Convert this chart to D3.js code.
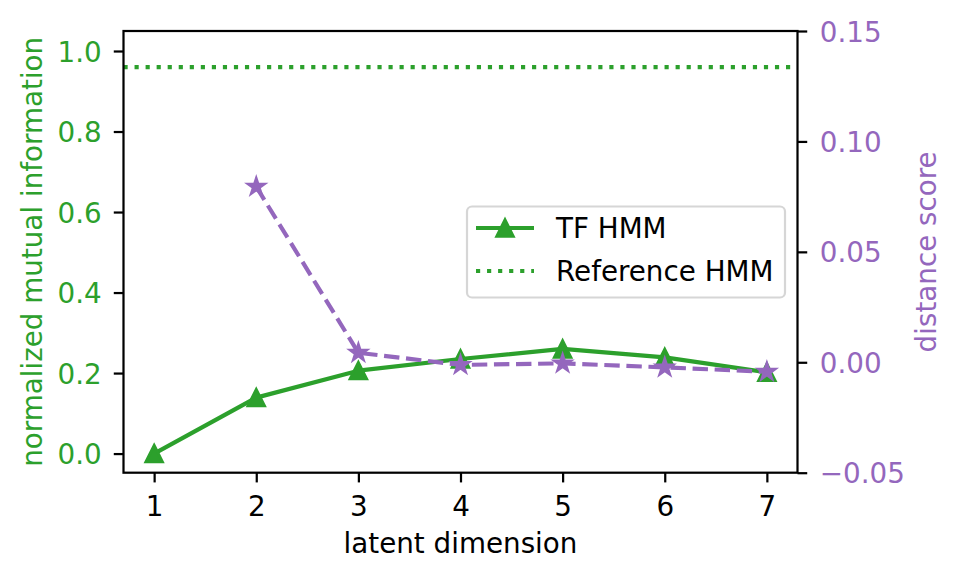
<!DOCTYPE html>
<html>
<head>
<meta charset="utf-8">
<script src="https://cdn.jsdelivr.net/npm/d3@7"></script>
<style>
  body { margin: 0; background: #fff; }
  svg { display: block; }
  text { font-family: "DejaVu Sans", sans-serif; }
</style>
</head>
<body>
<svg id="chart" width="961" height="580"></svg>
<script>
// ---- data ----
const latentDims = [1, 2, 3, 4, 5, 6, 7];
const tfHmmNMI = [0.000, 0.139, 0.206, 0.235, 0.260, 0.239, 0.202];
const referenceHmmNMI = 0.960;
const distanceDims = [2, 3, 4, 5, 6, 7];
const distanceScore = [0.0795, 0.0043, -0.0012, -0.0005, -0.0023, -0.0043];
const xTicks = [1, 2, 3, 4, 5, 6, 7];
const leftTicks = [0.0, 0.2, 0.4, 0.6, 0.8, 1.0];
const rightTicks = [-0.05, 0.00, 0.05, 0.10, 0.15];
const seriesNames = ["TF HMM", "Reference HMM"];

// ---- styles ----
const GREEN = "#2ca02c", PURPLE = "#9467bd";
const PT = 200 / 72;
const FS = 10 * PT;
const LW = 1.5 * PT;
const SPINE = 0.8 * PT;
const TICK = 3.5 * PT;
const MS = 3 * PT;   // half marker size
const MEW = 1 * PT;

const svg = d3.select("#chart");
const M = { left: 123.5, right: 797.5, top: 31, bottom: 472.7 };

const x = d3.scaleLinear().domain([0.7, 7.3]).range([M.left, M.right]);
const yL = d3.scaleLinear().domain([-0.0475, 1.0497]).range([M.bottom, M.top]);
const yR = d3.scaleLinear().domain([-0.05, 0.15]).range([M.bottom, M.top]);

function triPath(s) { return `M0,${-s}L${s},${s}L${-s},${s}Z`; }
function starPath(R) {
  const r = R * 0.381966; let p = "";
  for (let i = 0; i < 10; i++) {
    const rad = i % 2 === 0 ? R : r;
    const a = -Math.PI / 2 + i * Math.PI / 5;
    p += (i === 0 ? "M" : "L") + (rad * Math.cos(a)).toFixed(2) + "," + (rad * Math.sin(a)).toFixed(2);
  }
  return p + "Z";
}
const DOT = `${1 * LW},${1.65 * LW}`;
const DASH = `${3.7 * LW},${1.6 * LW}`;

// reference line (axhline)
svg.append("line")
  .attr("x1", M.left).attr("x2", M.right)
  .attr("y1", yL(referenceHmmNMI)).attr("y2", yL(referenceHmmNMI))
  .attr("stroke", GREEN).attr("stroke-width", LW)
  .attr("stroke-dasharray", DOT);

// TF HMM line
const gData = latentDims.map((d, i) => [d, tfHmmNMI[i]]);
svg.append("path").datum(gData)
  .attr("d", d3.line().x(d => x(d[0])).y(d => yL(d[1])))
  .attr("fill", "none").attr("stroke", GREEN).attr("stroke-width", LW)
  .attr("stroke-linejoin", "round").attr("stroke-linecap", "square");
svg.selectAll(".tri").data(gData).enter().append("path")
  .attr("transform", d => `translate(${x(d[0])},${yL(d[1])})`)
  .attr("d", triPath(MS))
  .attr("fill", GREEN).attr("stroke", GREEN).attr("stroke-width", MEW)
  .attr("stroke-linejoin", "miter");

// distance score (twin axis)
const pData = distanceDims.map((d, i) => [d, distanceScore[i]]);
svg.append("path").datum(pData)
  .attr("d", d3.line().x(d => x(d[0])).y(d => yR(d[1])))
  .attr("fill", "none").attr("stroke", PURPLE).attr("stroke-width", LW)
  .attr("stroke-dasharray", DASH);
svg.selectAll(".star").data(pData).enter().append("path")
  .attr("transform", d => `translate(${x(d[0])},${yR(d[1])})`)
  .attr("d", starPath(MS))
  .attr("fill", PURPLE).attr("stroke", PURPLE).attr("stroke-width", MEW)
  .attr("stroke-linejoin", "miter");

// axes
const gx = svg.append("g").attr("transform", `translate(0,${M.bottom})`)
  .call(d3.axisBottom(x).tickValues(xTicks).tickFormat(d3.format("d")).tickSize(TICK).tickPadding(13.5));
const gl = svg.append("g").attr("transform", `translate(${M.left},0)`)
  .call(d3.axisLeft(yL).tickValues(leftTicks).tickFormat(d3.format(".1f")).tickSize(TICK).tickPadding(12));
const gr = svg.append("g").attr("transform", `translate(${M.right},0)`)
  .call(d3.axisRight(yR).tickValues(rightTicks).tickFormat(d => d3.format(".2f")(d).replace("-", "\u2212")).tickSize(TICK).tickPadding(12.5));

[gx, gl, gr].forEach(g => {
  g.select(".domain").remove();
  g.selectAll(".tick line").attr("stroke", "#000").attr("stroke-width", SPINE);
  g.selectAll(".tick text").attr("font-size", FS).attr("font-family", "DejaVu Sans");
});
gx.selectAll(".tick text").attr("fill", "#000");
gl.selectAll(".tick text").attr("fill", GREEN).attr("dy", "0.36em");
gr.selectAll(".tick text").attr("fill", PURPLE).attr("dy", "0.36em");

// frame
svg.append("rect")
  .attr("x", M.left).attr("y", M.top)
  .attr("width", M.right - M.left).attr("height", M.bottom - M.top)
  .attr("fill", "none").attr("stroke", "#000").attr("stroke-width", SPINE);

// axis labels
svg.append("text").attr("x", (M.left + M.right) / 2).attr("y", 553)
  .attr("text-anchor", "middle").attr("font-size", FS).attr("fill", "#000")
  .text("latent dimension");
svg.append("text")
  .attr("transform", `translate(42,${(M.top + M.bottom) / 2}) rotate(-90)`)
  .attr("text-anchor", "middle").attr("font-size", FS).attr("fill", GREEN)
  .text("normalized mutual information");
svg.append("text")
  .attr("transform", `translate(936,${(M.top + M.bottom) / 2}) rotate(-90)`)
  .attr("text-anchor", "middle").attr("font-size", FS).attr("fill", PURPLE)
  .text("distance score");

// legend
const lg = svg.append("g");
lg.append("rect").attr("x", 467).attr("y", 206.5).attr("width", 318).attr("height", 91)
  .attr("rx", 5).attr("ry", 5)
  .attr("fill", "#fff").attr("fill-opacity", 0.8)
  .attr("stroke", "#d6d6d6").attr("stroke-width", SPINE);
const rows = [228, 271];
lg.append("line").attr("x1", 476).attr("x2", 534).attr("y1", rows[0]).attr("y2", rows[0])
  .attr("stroke", GREEN).attr("stroke-width", LW);
lg.append("path").attr("transform", `translate(505,${rows[0]})`).attr("d", triPath(MS))
  .attr("fill", GREEN).attr("stroke", GREEN).attr("stroke-width", MEW);
lg.append("line").attr("x1", 476).attr("x2", 534).attr("y1", rows[1]).attr("y2", rows[1])
  .attr("stroke", GREEN).attr("stroke-width", LW).attr("stroke-dasharray", DOT);
seriesNames.forEach((n, i) => {
  lg.append("text").attr("x", 556).attr("y", rows[i] + 10)
    .attr("font-size", FS).attr("fill", "#000").text(n);
});
</script>
</body>
</html>
